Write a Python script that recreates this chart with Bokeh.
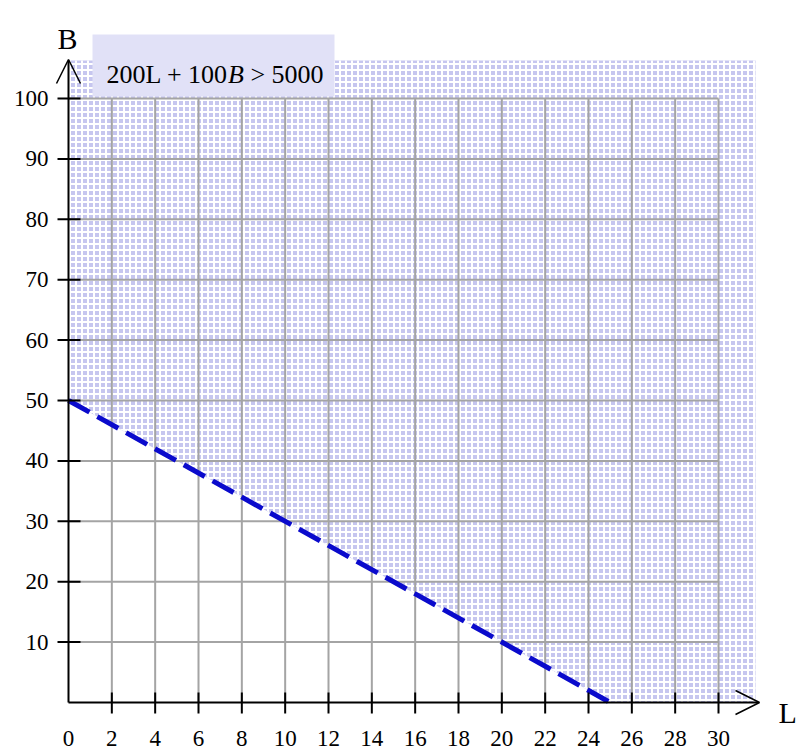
from bokeh.plotting import figure
from bokeh.models import Range1d, Arrow, OpenHead
from bokeh.core.properties import value
from bokeh.embed import file_html
from bokeh.resources import INLINE

# Inequality 200L + 100B > 5000
coef_L = 200
coef_B = 100
rhs = 5000
x_ticks = [0, 2, 4, 6, 8, 10, 12, 14, 16, 18, 20, 22, 24, 26, 28, 30]
x_tick_labels = [str(t) for t in x_ticks]
y_ticks = [10, 20, 30, 40, 50, 60, 70, 80, 90, 100]
y_tick_labels = [str(t) for t in y_ticks]
x_name = "L"
y_name = "B"

# pixel scale of the reference (origin at pixel 68, 702)
OX, OY = 68.0, 702.0
PXX = 650 / 30.0
PXY = 604 / 100.0
W, H = 800, 752


def dx(px):
    return (px - OX) / PXX


def dy(py):
    return (OY - py) / PXY


p = figure(width=W, height=H,
           x_range=Range1d(dx(0), dx(W)), y_range=Range1d(dy(H), dy(0)),
           output_backend="svg", toolbar_location=None,
           x_axis_location=None, y_axis_location=None,
           min_border=0, min_border_left=0, min_border_right=0,
           min_border_top=0, min_border_bottom=0)
p.outline_line_color = None
p.xgrid.visible = False
p.ygrid.visible = False
p.background_fill_color = "white"
p.border_fill_color = "white"

serif = "Liberation Serif"

# shaded region (above the boundary line)
L_int = rhs / coef_L
B_int = rhs / coef_B
x_shade_end = dx(755)
y_shade_end = dy(60)
p.patch([0, 0, x_shade_end, x_shade_end, L_int],
        [B_int, y_shade_end, y_shade_end, 0, 0],
        fill_color="#c6c6ef", line_color=None,
        hatch_pattern="+", hatch_color="white", hatch_weight=2, hatch_scale=6, hatch_alpha=1.0)

# grid lines
xmax = max(x_ticks)
ymax = max(y_ticks)
gx = [t for t in x_ticks if t > 0]
p.segment(x0=gx, y0=[0] * len(gx), x1=gx, y1=[ymax] * len(gx), line_color="#a4a4a4", line_width=2)
p.segment(x0=[0] * len(y_ticks), y0=y_ticks, x1=[xmax] * len(y_ticks), y1=y_ticks,
          line_color="#a4a4a4", line_width=2)

# boundary line
p.line([0, L_int], [B_int, 0], line_color="#0a0acc", line_width=5, line_dash="24 9")

# tick marks
p.segment(x0=gx, y0=[-11 / PXY] * len(gx), x1=gx, y1=[10 / PXY] * len(gx),
          line_color="black", line_width=2)
p.segment(x0=[-11 / PXX] * len(y_ticks), y0=y_ticks, x1=[12 / PXX] * len(y_ticks), y1=y_ticks,
          line_color="black", line_width=2)

# tick labels
p.text(x=x_ticks, y=[dy(738)] * len(x_ticks), text=x_tick_labels,
       text_font=value(serif), text_font_size="23px", text_color="black",
       text_align="center", text_baseline="middle")
p.text(x=[dx(48)] * len(y_ticks), y=y_ticks, text=y_tick_labels,
       text_font=value(serif), text_font_size="23px", text_color="black",
       text_align="right", text_baseline="middle")

# axes with arrow heads
p.add_layout(Arrow(end=OpenHead(size=24, line_width=1.5, line_color="black"),
                   x_start=0, y_start=0, x_end=dx(759), y_end=0,
                   line_color="black", line_width=2))
p.add_layout(Arrow(end=OpenHead(size=24, line_width=1.5, line_color="black"),
                   x_start=0, y_start=0, x_end=0, y_end=dy(59),
                   line_color="black", line_width=2))

p.text(x=[dx(778)], y=[dy(712)], text=[x_name], text_font=value(serif),
       text_font_size="30px", text_color="black", text_baseline="alphabetic")
p.text(x=[dx(57)], y=[dy(38)], text=[y_name], text_font=value(serif),
       text_font_size="30px", text_color="black", text_baseline="alphabetic")

# equation box
p.quad(left=[dx(92)], right=[dx(334)], bottom=[dy(96)], top=[dy(34)],
       fill_color="#e1e1f7", line_color=None)
fs = 26
base_y = dy(74)
x0 = 106
w1 = 4.675 * fs
w2 = 0.611 * fs
sp = 0.25 * fs
p.text(x=[dx(x0)], y=[base_y], text=["200L + 100"], text_font=value(serif),
       text_font_size=f"{fs}px", text_color="black", text_baseline="alphabetic")
p.text(x=[dx(x0 + w1)], y=[base_y], text=[y_name], text_font=value(serif),
       text_font_style="italic", text_font_size=f"{fs}px", text_color="black",
       text_baseline="alphabetic")
p.text(x=[dx(x0 + w1 + w2 + sp)], y=[base_y], text=[f"> {rhs}"], text_font=value(serif),
       text_font_size=f"{fs}px", text_color="black", text_baseline="alphabetic")

open("out.html", "w").write(file_html(p, INLINE))
